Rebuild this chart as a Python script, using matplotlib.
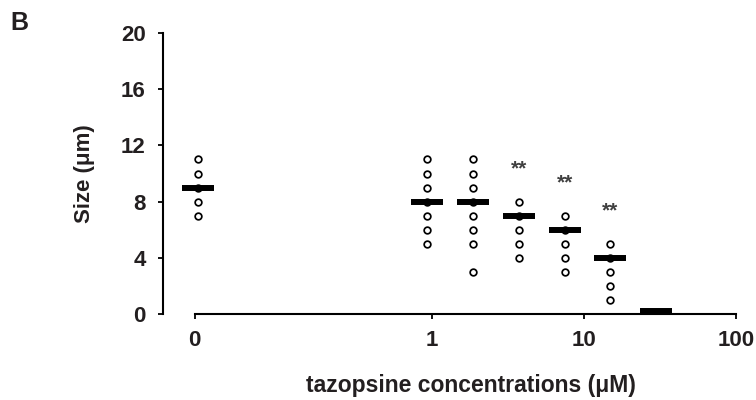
import numpy as np
import matplotlib
matplotlib.use('Agg')
import matplotlib.pyplot as plt

plt.rcParams['font.family'] = ['Liberation Sans', 'DejaVu Sans']

# concentrations (uM); the untreated group is drawn at a stand-in position for "0"
concs = [0.029, 0.9375, 1.875, 3.75, 7.5, 15, 30]
sizes = [
    [11, 10, 9, 8, 7],
    [11, 10, 9, 8, 7, 6, 5],
    [11, 10, 9, 8, 7, 6, 5, 3],
    [8, 7, 6, 5, 4],
    [7, 6, 5, 4, 3],
    [5, 4, 3, 2, 1],
    [],
]
medians = [9, 8, 8, 7, 6, 4, 0.2]
signif = ['', '', '', '**', '**', '**', '']

xtick_pos = [0.0275, 1, 10, 100]
xtick_labels = ['0', '1', '10', '100']
yticks = [0, 4, 8, 12, 16, 20]

txt = '#231f20'

fig = plt.figure(figsize=(7.56, 4.0), dpi=100)
ax = fig.add_axes([163 / 756, 1 - 314 / 400, (735.7 - 163) / 756, (314 - 33) / 400])

for x, s in zip(concs, sizes):
    if s:
        ax.plot([x] * len(s), s, 'o', ms=4.8, mfc='white', mec='black', mew=1.25,
                zorder=3, clip_on=False)

ax.plot(concs, medians, '_', ms=23.5, mew=4.3, color='black', zorder=4, clip_on=False)

for x, s, sig in zip(concs, sizes, signif):
    if sig:
        ax.text(x, max(s) + 2.35, sig, ha='center', va='center', fontsize=15,
                fontweight='bold', color='#404040')

ax.set_xscale('log')
ax.set_xlim(10 ** -1.768, 100)
ax.set_ylim(0, 20)
ax.spines['top'].set_visible(False)
ax.spines['right'].set_visible(False)
ax.spines['bottom'].set_bounds(xtick_pos[0], 100)
for sp in ['left', 'bottom']:
    ax.spines[sp].set_linewidth(1.5)

ax.set_xticks(xtick_pos)
ax.set_xticklabels(xtick_labels)
ax.xaxis.set_minor_locator(matplotlib.ticker.NullLocator())
ax.set_yticks(yticks)
ax.tick_params(axis='both', direction='out', length=3.6, width=1.3,
               labelsize=16, colors='black', labelcolor=txt)
ax.tick_params(axis='y', pad=9)
ax.tick_params(axis='x', pad=8)
for lab in ax.get_xticklabels() + ax.get_yticklabels():
    lab.set_fontweight('bold')

ax.set_xlabel('tazopsine concentrations (μM)', fontsize=16.5, fontweight='bold',
              color=txt, va='center')
ax.set_ylabel('Size (μm)', fontsize=16, fontweight='bold', color=txt, va='center')
ax.xaxis.set_label_coords(0.538, -0.2527)
ax.yaxis.set_label_coords(-0.137, 0.5)

fig.text(0.014, 0.972, 'B', fontsize=18, fontweight='bold', color=txt, va='top', ha='left')

fig.savefig('out.png', dpi=100)
plt.close(fig)
